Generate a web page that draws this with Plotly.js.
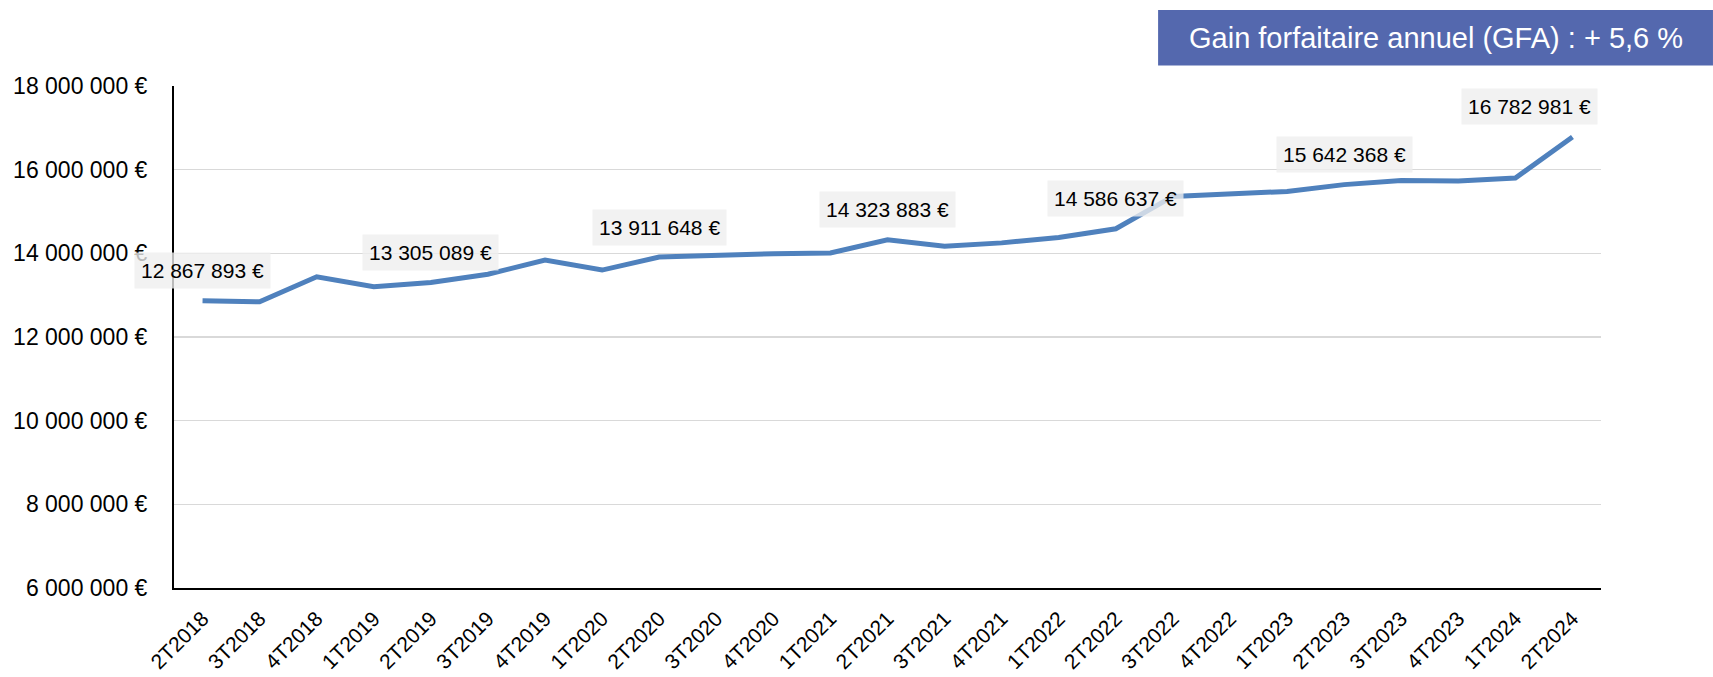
<!DOCTYPE html>
<html>
<head>
<meta charset="utf-8">
<script src="https://cdn.plot.ly/plotly-3.0.1.min.js"></script>
<style>html,body{margin:0;padding:0;background:#fff;}#chart{width:1713px;height:677px;}</style>
</head>
<body>
<div id="chart"></div>
<script>
const quarters = ["2T2018","3T2018","4T2018","1T2019","2T2019","3T2019","4T2019","1T2020","2T2020","3T2020","4T2020","1T2021","2T2021","3T2021","4T2021","1T2022","2T2022","3T2022","4T2022","1T2023","2T2023","3T2023","4T2023","1T2024","2T2024"];
const gfaValues = [12867893,12840000,13440000,13200000,13305089,13500000,13840000,13600000,13911648,13960000,13990000,14010000,14323883,14170000,14250000,14380000,14586637,15360000,15420000,15480000,15642368,15740000,15730000,15800000,16782981];
const labelIndices = [0,4,8,12,16,20,24];
const yTickVals = [6000000,8000000,10000000,12000000,14000000,16000000,18000000];
const boxTitle = "Gain forfaitaire annuel (GFA) : + 5,6 %";

function fmtEuro(v){ return String(Math.round(v)).replace(/\B(?=(\d{3})+(?!\d))/g, " ") + " €"; }

const FONT = "Liberation Sans, Arial, sans-serif";

const annotations = labelIndices.map((i, k) => ({
  x: quarters[i], y: gfaValues[i], xref: "x", yref: "y",
  text: fmtEuro(gfaValues[i]), showarrow: false,
  yshift: 30, xshift: (k === labelIndices.length - 1) ? -43 : 0,
  bgcolor: "rgba(238,238,238,0.78)", borderpad: 6,
  font: {family: FONT, size: 21, color: "#000"}
}));
annotations.push({
  x: (1158 - 173.7 + 277.5) / 1427.3, y: (588 - 38) / 502, xref: "paper", yref: "paper",
  xanchor: "center", yanchor: "middle", showarrow: false,
  text: boxTitle, font: {family: FONT, size: 29, color: "#fff"}
});

const trace = {
  x: quarters, y: gfaValues, type: "scatter", mode: "lines",
  line: {color: "rgb(79,129,189)", width: 5},
  hoverinfo: "skip"
};

const layout = {
  width: 1713, height: 677,
  margin: {l: 174, r: 112, t: 86, b: 89},
  paper_bgcolor: "#fff", plot_bgcolor: "#fff",
  showlegend: false,
  font: {family: FONT, color: "#000"},
  xaxis: {
    type: "category", range: [-0.5, 24.5],
    showgrid: false, showline: true, linecolor: "#000", linewidth: 2,
    ticks: "", tickangle: -45, tickfont: {family: FONT, size: 21, color: "#000"},
    ticklabelstandoff: 8, fixedrange: true
  },
  yaxis: {
    range: [6000000, 18000000], tickmode: "array", tickvals: yTickVals, ticktext: yTickVals.map(fmtEuro),
    showgrid: true, gridcolor: "#D9D9D9", gridwidth: 1.5, zeroline: false,
    showline: true, linecolor: "#000", linewidth: 2,
    ticks: "", tickfont: {family: FONT, size: 23, color: "#000"},
    ticklabelstandoff: 20, fixedrange: true
  },
  shapes: [{
    type: "rect", xref: "paper", yref: "paper",
    x0: (1158 - 173.7) / 1427.3, x1: (1713 - 173.7) / 1427.3,
    y0: (588 - 65.5) / 502, y1: (588 - 10) / 502,
    fillcolor: "#5468AE", line: {width: 0}, layer: "above"
  }],
  annotations: annotations
};

Plotly.newPlot("chart", [trace], layout, {staticPlot: true, displayModeBar: false});
</script>
</body>
</html>
